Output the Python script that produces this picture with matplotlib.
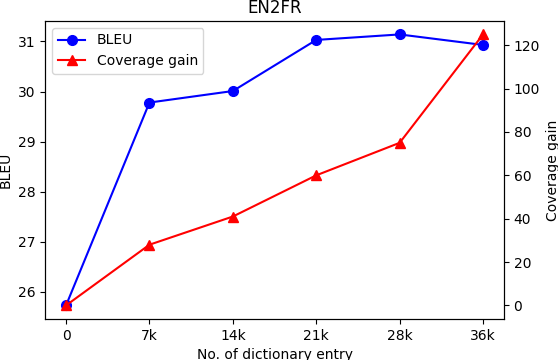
import numpy as np
from matplotlib import pyplot as plt

# Dictionary sizes on the x axis
entries = ["0", "7k", "14k", "21k", "28k", "36k"]
bleu = [25.73, 29.78, 30.01, 31.03, 31.14, 30.93]
coverage_gain = [0, 28, 41, 60, 75, 125]

x = np.arange(len(entries))

fig, ax1 = plt.subplots(figsize=(5.58, 3.6), dpi=100)
fig.subplots_adjust(left=0.081, right=0.903, top=0.942, bottom=0.114)

line1, = ax1.plot(x, bleu, color='blue', marker='o', markersize=7, label='BLEU')
ax1.set_ylabel("BLEU")
ax1.set_xlabel("No. of dictionary entry")
ax1.set_xticks(x)
ax1.set_xticklabels(entries)
ax1.set_yticks([26, 27, 28, 29, 30, 31])

ax2 = ax1.twinx()
line2, = ax2.plot(x, coverage_gain, color='red', marker='^', markersize=7, label='Coverage gain')
ax2.set_ylabel("Coverage gain")
ax2.set_yticks([0, 20, 40, 60, 80, 100, 120])

ax1.legend(handles=[line1, line2], loc='upper left')
ax1.set_title("EN2FR")

fig.savefig("out.png", dpi=100)
